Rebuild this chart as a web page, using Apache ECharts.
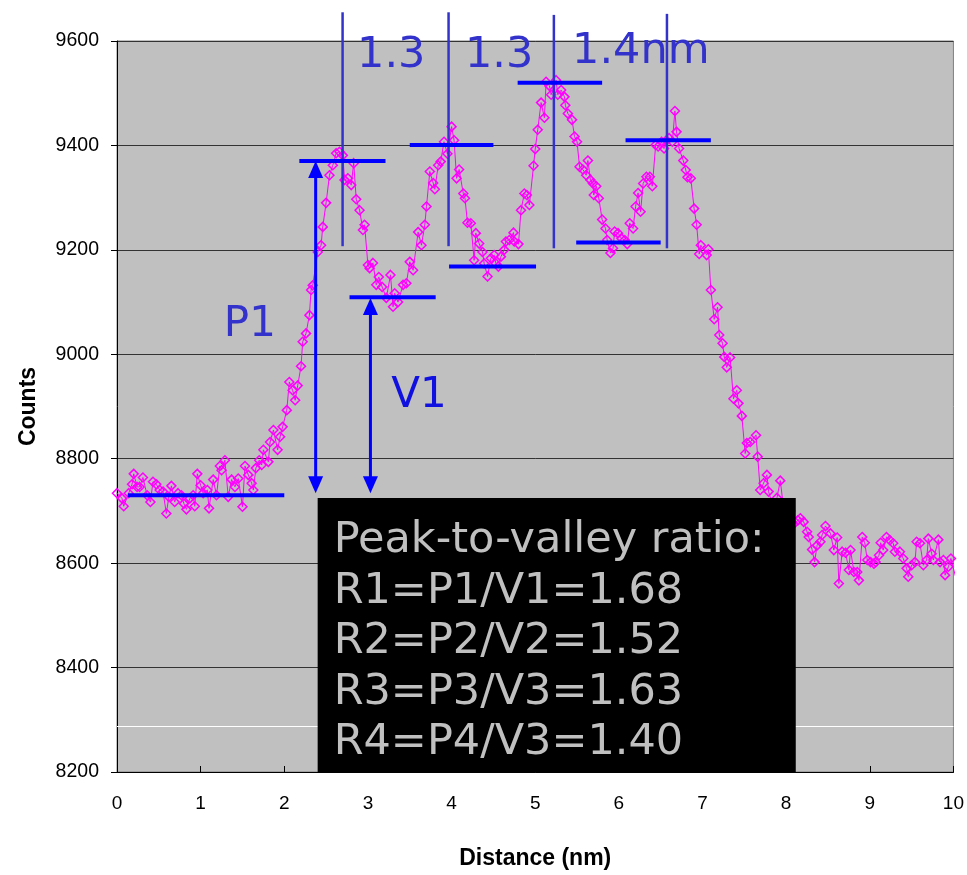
<!DOCTYPE html>
<html><head><meta charset="utf-8">
<script src="https://cdn.jsdelivr.net/npm/echarts@6/dist/echarts.min.js"></script>
<style>html,body{margin:0;padding:0;background:#fff}#c{width:967px;height:875px}</style>
</head><body><div id="c"></div>
<script>
// ---- data ----
const distance = [0.00,0.06,0.08,0.14,0.18,0.20,0.24,0.27,0.31,0.36,0.40,0.43,0.47,0.51,0.55,0.59,0.62,0.65,0.69,0.73,0.77,0.80,0.83,0.87,0.91,0.93,0.96,1.00,1.03,1.08,1.10,1.15,1.19,1.23,1.25,1.29,1.33,1.37,1.41,1.45,1.50,1.53,1.57,1.61,1.63,1.66,1.70,1.73,1.75,1.81,1.83,1.87,1.92,1.95,1.98,2.03,2.06,2.10,2.13,2.16,2.20,2.22,2.26,2.30,2.32,2.34,2.40,2.44,2.46,2.50,2.54,2.58,2.62,2.66,2.70,2.72,2.76,2.80,2.83,2.86,2.90,2.94,2.96,3.00,3.02,3.06,3.10,3.13,3.17,3.22,3.27,3.30,3.32,3.36,3.42,3.46,3.50,3.54,3.60,3.64,3.68,3.70,3.74,3.78,3.80,3.84,3.87,3.91,3.95,4.00,4.03,4.06,4.09,4.14,4.16,4.19,4.23,4.27,4.29,4.33,4.37,4.39,4.43,4.47,4.51,4.53,4.56,4.59,4.63,4.65,4.69,4.74,4.75,4.80,4.83,4.87,4.90,4.93,4.98,5.00,5.03,5.07,5.11,5.13,5.17,5.19,5.25,5.27,5.31,5.35,5.36,5.39,5.44,5.47,5.50,5.53,5.57,5.61,5.63,5.66,5.69,5.70,5.73,5.76,5.80,5.84,5.86,5.90,5.93,5.95,5.99,6.03,6.07,6.10,6.13,6.17,6.20,6.23,6.26,6.29,6.33,6.37,6.40,6.44,6.47,6.51,6.54,6.57,6.60,6.64,6.67,6.69,6.72,6.77,6.80,6.82,6.86,6.90,6.93,6.96,6.98,7.05,7.07,7.10,7.14,7.18,7.20,7.24,7.26,7.29,7.33,7.37,7.41,7.43,7.47,7.51,7.53,7.57,7.64,7.66,7.69,7.73,7.77,7.79,7.83,7.86,7.89,7.93,7.97,8.01,8.05,8.09,8.14,8.17,8.21,8.25,8.27,8.31,8.34,8.37,8.41,8.43,8.47,8.53,8.57,8.61,8.63,8.67,8.71,8.75,8.77,8.81,8.85,8.87,8.91,8.94,8.97,9.01,9.05,9.07,9.11,9.13,9.16,9.20,9.24,9.28,9.30,9.36,9.40,9.44,9.46,9.50,9.54,9.56,9.60,9.64,9.68,9.70,9.74,9.76,9.82,9.84,9.88,9.90,9.94,9.97,10.06];
const counts = [8734,8724,8709,8734,8751,8771,8746,8746,8764,8730,8717,8756,8751,8740,8737,8695,8727,8748,8717,8734,8730,8714,8703,8724,8730,8709,8771,8749,8734,8740,8705,8760,8730,8786,8778,8797,8727,8760,8746,8762,8708,8786,8769,8753,8740,8782,8797,8788,8817,8794,8832,8855,8817,8842,8861,8893,8947,8931,8912,8940,8977,9024,9040,9075,9123,9132,9196,9209,9244,9290,9343,9362,9385,9388,9381,9334,9337,9324,9366,9297,9276,9238,9248,9171,9165,9175,9133,9148,9129,9108,9152,9091,9117,9100,9133,9136,9177,9161,9234,9209,9248,9283,9350,9328,9316,9362,9369,9407,9384,9436,9410,9337,9354,9308,9299,9252,9251,9180,9232,9212,9196,9174,9149,9184,9190,9174,9168,9187,9200,9216,9219,9233,9216,9211,9276,9308,9305,9286,9361,9393,9430,9482,9453,9522,9514,9497,9525,9497,9506,9493,9477,9461,9449,9417,9407,9359,9354,9343,9371,9334,9327,9305,9322,9299,9258,9241,9219,9194,9203,9235,9232,9222,9219,9211,9251,9241,9283,9309,9273,9327,9340,9340,9322,9401,9398,9407,9394,9410,9414,9407,9466,9426,9394,9371,9353,9339,9337,9279,9248,9192,9209,9190,9201,9123,9067,9090,9037,9021,8995,8975,8994,8915,8931,8906,8882,8810,8830,8832,8845,8804,8740,8753,8769,8737,8715,8700,8725,8758,8705,8690,8700,8675,8682,8686,8679,8660,8650,8626,8602,8634,8641,8654,8671,8657,8625,8649,8561,8622,8620,8587,8625,8583,8583,8567,8650,8639,8606,8602,8599,8602,8615,8639,8625,8650,8644,8638,8622,8622,8609,8590,8574,8596,8602,8641,8638,8596,8606,8647,8618,8606,8645,8602,8606,8577,8593,8609,8552];

// axis ranges / ticks
const xMin = 0, xMax = 10, xStep = 1;
const yMin = 8200, yMax = 9600, yStep = 200;
const whiteRule = 8288;

// annotations (in data units)
const levelBars = [
  [2.18, 3.21, 9370], [2.78, 3.81, 9109], [3.50, 4.50, 9401], [3.97, 5.01, 9168],
  [4.79, 5.80, 9520], [5.49, 6.50, 9214], [6.08, 7.10, 9410], [0.13, 2.00, 8730]
];
const periodLines = [[2.697, 9655, 9207], [3.964, 9655, 9207], [5.223, 9650, 9203], [6.575, 9652, 9203]];
const heightArrows = [[2.375, 9370, 8734], [3.03, 9108, 8734]];
const spacingLabels = [['1.3', 2.87, 9571], ['1.3', 4.16, 9571], ['1.4nm', 5.44, 9579]];
const letterLabels = [['P1', 1.277, 9056, '#3333CC'], ['V1', 3.28, 8920, '#1010E0']];
const ratioBox = [2.399, 8.115, 8725, 8200];
const ratioTextPos = [2.59, 8642];
const ratioLines = ['Peak-to-valley ratio:', 'R1=P1/V1=1.68', 'R2=P2/V2=1.52', 'R3=P3/V3=1.63', 'R4=P4/V3=1.40'];

const points = distance.map((d, i) => [d, counts[i]]);

const chart = echarts.init(document.getElementById('c'), null, {renderer: 'canvas'});
chart.setOption({
  animation: false,
  backgroundColor: '#ffffff',
  grid: {left: 117, right: 12, top: 41, bottom: 103, show: true, backgroundColor: '#C0C0C0', borderColor: '#808080', borderWidth: 1},
  xAxis: {
    type: 'value', min: xMin, max: xMax, interval: xStep,
    name: 'Distance (nm)', nameLocation: 'middle', nameGap: 75,
    nameTextStyle: {fontFamily: 'Liberation Sans', fontWeight: 'bold', fontSize: 23, color: '#000'},
    axisLine: {show: true, onZero: false, lineStyle: {color: '#000', width: 1}},
    axisTick: {show: true, inside: true, length: 6, lineStyle: {color: '#000'}},
    axisLabel: {margin: 22, fontFamily: 'Liberation Sans', fontSize: 19, color: '#000'},
    splitLine: {show: false}
  },
  yAxis: {
    type: 'value', min: yMin, max: yMax, interval: yStep,
    name: 'Counts', nameLocation: 'middle', nameGap: 77, nameRotate: 90,
    nameTextStyle: {fontFamily: 'Liberation Sans', fontWeight: 'bold', fontSize: 23, color: '#000'},
    axisLine: {show: true, onZero: false, lineStyle: {color: '#000', width: 1}},
    axisTick: {show: true, inside: false, length: 6, lineStyle: {color: '#000'}},
    axisLabel: {margin: 18, fontFamily: 'Liberation Sans', fontSize: 19.5, color: '#000', formatter: v => String(v)},
    splitLine: {show: true, lineStyle: {color: '#333', width: 1}}
  },
  series: [{
    type: 'line', data: points, clip: true,
    symbol: 'diamond', symbolSize: 9, showAllSymbol: true,
    lineStyle: {color: '#FF00FF', width: 1},
    itemStyle: {color: 'rgba(0,0,0,0)', borderColor: '#FF00FF', borderWidth: 1.5},
    emphasis: {disabled: true},
    markLine: {
      silent: true, symbol: 'none', label: {show: false},
      lineStyle: {color: '#ffffff', width: 1, type: 'solid'},
      data: [{yAxis: whiteRule}]
    },
    z: 2
  }]
});

function px(x, v) { return chart.convertToPixel({gridIndex: 0}, [x, v]); }
const g = [];
periodLines.forEach(([x, t, b]) => {
  const p1 = px(x, t), p2 = px(x, b);
  g.push({type: 'line', z: 50, shape: {x1: p1[0], y1: p1[1], x2: p2[0], y2: p2[1]}, style: {stroke: '#3333CC', lineWidth: 2.5}});
});
levelBars.forEach(([x0, x1, v]) => {
  const p1 = px(x0, v), p2 = px(x1, v);
  g.push({type: 'line', z: 50, shape: {x1: p1[0], y1: p1[1], x2: p2[0], y2: p2[1]}, style: {stroke: '#0000FF', lineWidth: 4}});
});
heightArrows.forEach(([x, t, b]) => {
  const pt = px(x, t), pb = px(x, b);
  const hw = 7.5, hl = 17;
  g.push({type: 'line', z: 50, shape: {x1: pt[0], y1: pt[1] + hl - 2, x2: pb[0], y2: pb[1] - hl + 2}, style: {stroke: '#0000FF', lineWidth: 3}});
  g.push({type: 'polygon', z: 50, shape: {points: [[pt[0], pt[1]], [pt[0] - hw, pt[1] + hl], [pt[0] + hw, pt[1] + hl]]}, style: {fill: '#0000FF'}});
  g.push({type: 'polygon', z: 50, shape: {points: [[pb[0], pb[1]], [pb[0] - hw, pb[1] - hl], [pb[0] + hw, pb[1] - hl]]}, style: {fill: '#0000FF'}});
});
spacingLabels.forEach(([t, x, v]) => {
  const p = px(x, v);
  g.push({type: 'text', z: 60, x: p[0], y: p[1], style: {text: t, fill: '#3333CC', font: '43px "DejaVu Sans"', textAlign: 'left', textVerticalAlign: 'middle'}});
});
letterLabels.forEach(([t, x, v, c]) => {
  const p = px(x, v);
  g.push({type: 'text', z: 60, x: p[0], y: p[1], style: {text: t, fill: c, font: '42px "DejaVu Sans"', textAlign: 'left', textVerticalAlign: 'middle'}});
});
(function () {
  const a = px(ratioBox[0], ratioBox[2]), b = px(ratioBox[1], ratioBox[3]);
  g.push({type: 'rect', z: 70, shape: {x: a[0], y: a[1], width: b[0] - a[0], height: b[1] - a[1]}, style: {fill: '#000000'}});
  const p = px(ratioTextPos[0], ratioTextPos[1]);
  const lh = 50.5;
  ratioLines.forEach((t, i) => {
    g.push({type: 'text', z: 80, x: p[0], y: p[1] + i * lh, style: {text: t, fill: '#C0C0C0', font: '43px "DejaVu Sans"', textAlign: 'left', textVerticalAlign: 'middle'}});
  });
})();
chart.setOption({graphic: g});
</script></body></html>
